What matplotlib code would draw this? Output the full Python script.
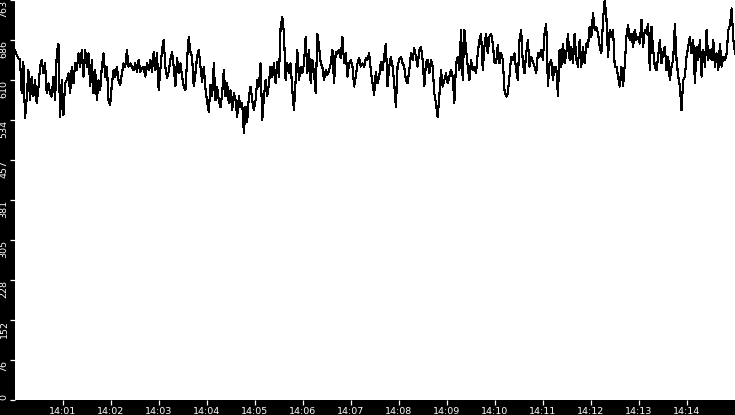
import matplotlib
matplotlib.use("Agg")
import matplotlib.pyplot as plt
import numpy as np
import pandas as pd

start_time = "2024-01-01 14:00:00"
end_time = "2024-01-01 14:15:00"

values = [
    668,658,652,649,585,645,537,575,629,572,617,579,610,566,594,636,649,623,642,585,604,585,579,617,572,661,680,540,610,544,604,610,623,585,636,604,642,629,661,636,668,617,668,636,661,598,649,585,629,572,610,591,636,661,617,636,572,563,604,629,617,636,610,601,623,642,636,668,636,642,636,629,
    642,626,649,626,633,636,617,642,629,649,626,664,629,661,591,629,668,687,636,614,626,649,664,636,598,652,623,642,617,598,591,649,693,664,655,598,623,655,668,636,607,636,594,569,550,601,579,642,572,598,572,559,585,629,579,604,566,591,553,585,572,540,579,559,566,509,559,531,579,598,572,553,
    572,610,598,642,534,579,610,579,604,636,617,642,604,645,617,712,731,699,610,642,623,642,591,553,610,668,610,636,623,642,693,623,668,604,649,623,585,699,674,642,636,610,629,620,629,642,668,604,664,661,668,652,693,642,661,617,642,649,636,598,617,642,652,636,642,636,652,649,661,629,604,582,
    626,604,617,645,629,655,680,598,636,655,636,604,559,636,649,655,642,636,610,604,629,661,649,671,655,636,668,674,649,598,642,649,623,649,636,585,566,540,579,629,598,610,623,604,617,629,617,566,642,655,629,706,610,706,668,636,610,649,629,636,623,661,687,699,629,674,699,661,693,699,680,645,
    642,677,642,661,649,591,579,585,617,655,649,661,629,610,687,706,642,623,661,687,636,655,645,636,623,661,655,668,649,699,718,598,642,649,610,636,636,579,668,636,680,642,661,699,649,674,642,699,649,636,687,636,674,642,680,674,712,693,738,706,712,699,674,661,725,763,731,655,706,693,706,636,
    636,617,598,636,598,639,693,715,687,699,674,706,687,693,680,725,674,706,699,718,629,712,668,636,629,655,687,642,661,674,629,655,610,636,649,718,649,617,598,553,610,617,655,674,693,661,687,604,674,649,687,617,668,636,706,649,668,649,687,636,661,629,680,636,655,649,661,706,715,747,687,661,
]

ytick_values = [0, 76.3, 152.6, 228.9, 305.2, 381.5, 457.8, 534.1, 610.4, 686.7, 763]
ytick_labels = ["0", "76", "152", "228", "305", "381", "457", "534", "610", "686", "763"]
y_max = 763
xtick_labels = ["14:01", "14:02", "14:03", "14:04", "14:05", "14:06", "14:07",
                "14:08", "14:09", "14:10", "14:11", "14:12", "14:13", "14:14"]

times = pd.date_range(start=start_time, end=end_time, periods=len(values))

fig = plt.figure(figsize=(7.35, 4.15), dpi=100, facecolor="black")
ax = fig.add_axes([15 / 735, 15 / 415, 720 / 735, 400 / 415])
ax.set_facecolor("white")
ax.plot(times, values, color="black", linewidth=0.8, antialiased=False)

ax.set_xlim(pd.Timestamp(start_time), pd.Timestamp(end_time))
ax.set_ylim(0, y_max)

xticks = [pd.Timestamp("2024-01-01 " + lab + ":00") for lab in xtick_labels]
ax.set_xticks(xticks)
ax.set_xticklabels(xtick_labels)
ax.set_yticks(ytick_values)
ax.set_yticklabels(ytick_labels)

for s in ax.spines.values():
    s.set_visible(False)

ax.tick_params(axis="both", colors="white", length=3.6, width=0.9, labelsize=6.8)
ax.tick_params(axis="x", pad=1.2)
ax.tick_params(axis="y", pad=1.0)
for i, lab in enumerate(ax.get_yticklabels()):
    lab.set_rotation(90)
    lab.set_va("top")
    lab.set_ha("right")
    if i == 0:
        lab.set_va("bottom")

fig.savefig("out.png", dpi=100, facecolor="black")
